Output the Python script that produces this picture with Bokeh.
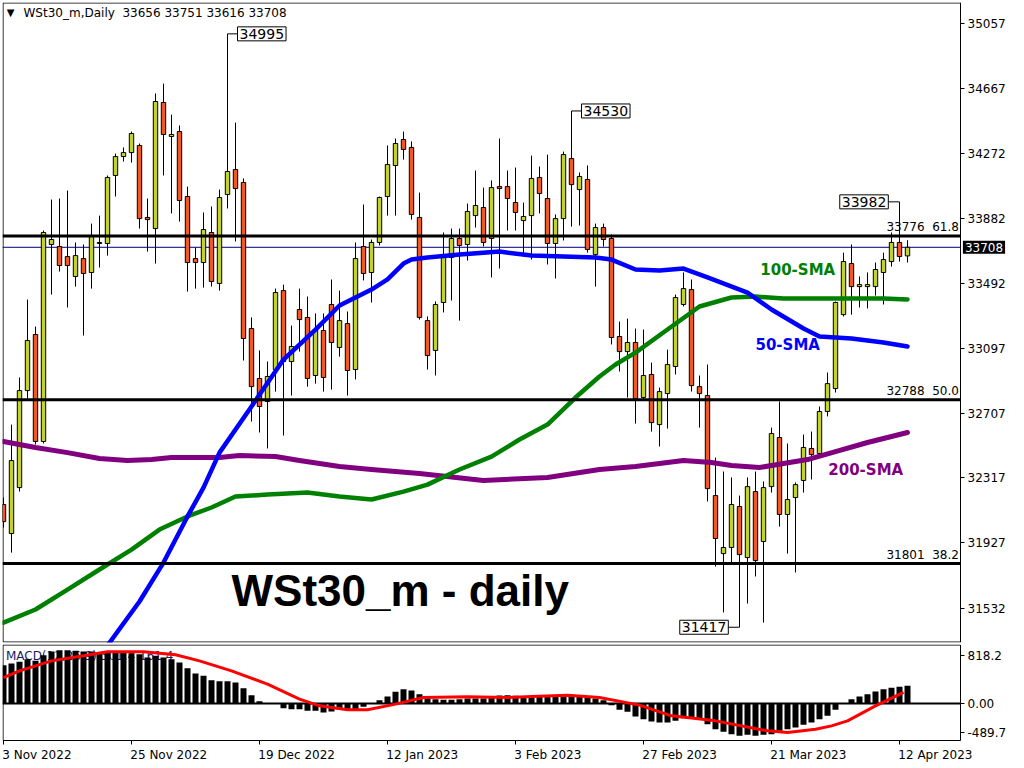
from bokeh.plotting import figure
from bokeh.models import ColumnDataSource, FixedTicker, Range1d, Label, LinearAxis
from bokeh.layouts import column
from bokeh.embed import file_html
from bokeh.resources import INLINE
from bokeh.core.properties import value

# ---------------- data ----------------
opens = [32157, 31982, 32259, 32844, 33182, 32537, 33725, 33713, 33652, 33532,
         33640, 33556, 33731, 33731, 34141, 34255, 34279, 34322, 33888, 33821,
         34581, 34376, 34406, 34014, 33640, 33616, 33797, 33490, 34026, 34177,
         34099, 33218, 32917, 32778, 32971, 33447, 33019, 33333, 33285, 32935,
         33206, 33363, 33104, 33248, 32971, 33713, 33556, 33737, 34014, 34201,
         34358, 34310, 33888, 33266, 33086, 33375, 33646, 33761, 33725, 33899,
         33948, 33761, 34074, 34074, 33978, 33869, 33899, 34129, 34002, 33731,
         33881, 34243, 34056, 34117, 33664, 33827, 33761, 33170, 33079, 33134,
         32802, 32941, 32639, 32826, 32989, 33363, 33453, 32868, 32814, 32211,
         31861, 31898, 32145, 31837, 32235, 31934, 32265, 32561, 32097, 32199,
         32302, 32495, 32464, 32718, 32856, 33302, 33610, 33471, 33471, 33471,
         33556, 33622, 33737, 33656]
highs = [32199, 32639, 32923, 33393, 33230, 33809, 33996, 34002, 34050, 33737,
         33725, 33851, 33899, 34141, 34273, 34310, 34406, 34334, 34002, 34635,
         34695, 34508, 34442, 34074, 33707, 33918, 33954, 34056, 34995, 34460,
         34123, 33285, 33086, 33019, 33459, 33483, 33236, 33459, 33411, 33309,
         33309, 33514, 33447, 33321, 33737, 33966, 33755, 34014, 34322, 34364,
         34406, 34346, 34038, 33291, 33381, 33797, 33821, 33821, 33972, 34171,
         34068, 34111, 34364, 34171, 34189, 33978, 34261, 34195, 34267, 33906,
         34285, 34530, 34159, 34201, 33851, 33851, 33785, 33260, 33278, 33218,
         33212, 33013, 32862, 33091, 33423, 33556, 33514, 32935, 33001, 32440,
         32356, 32320, 32211, 32320, 32356, 32296, 32621, 32778, 32525, 32290,
         32579, 32597, 32748, 32953, 33381, 33676, 33725, 33532, 33556, 33616,
         33676, 33797, 33982, 33751]
lows = [32018, 31867, 32235, 32790, 32519, 32525, 33423, 33562, 33345, 33471,
        33176, 33459, 33586, 33658, 34014, 34225, 34219, 33821, 33682, 33610,
        34141, 33912, 33863, 33441, 33459, 33465, 33471, 33447, 33942, 33743,
        33025, 32657, 32591, 32495, 32838, 32573, 32814, 33079, 32868, 32886,
        32838, 32850, 33049, 32814, 32911, 33508, 33375, 33719, 33899, 33899,
        34237, 33875, 33272, 32971, 32935, 33315, 33387, 33266, 33628, 33827,
        33713, 33526, 33580, 33809, 33809, 33652, 33634, 33912, 33604, 33520,
        33749, 33833, 33839, 33676, 33471, 33713, 33122, 32959, 32802, 32645,
        32790, 32597, 32507, 32615, 32941, 33351, 32838, 32621, 32175, 31783,
        31506, 31807, 31417, 31560, 31723, 31445, 32229, 32024, 31861, 31747,
        32229, 32308, 32446, 32688, 32832, 33291, 33302, 33345, 33339, 33417,
        33363, 33592, 33622, 33616]
closes = [32054, 32422, 32844, 33146, 32537, 33797, 33755, 33598, 33598, 33658,
          33550, 33773, 33737, 34129, 34255, 34279, 34394, 33881, 33875, 34587,
          34388, 34388, 33990, 33616, 33616, 33815, 33502, 34008, 34165, 34062,
          33158, 32868, 32748, 32929, 33435, 33019, 33110, 33272, 32917, 33212,
          32923, 33134, 33266, 32965, 33640, 33550, 33737, 34008, 34207, 34334,
          34298, 33906, 33285, 33055, 33363, 33646, 33761, 33719, 33924, 33960,
          33737, 34068, 34062, 34002, 33918, 33894, 34123, 34032, 33731, 33881,
          34267, 34086, 34135, 33695, 33827, 33755, 33164, 33079, 33134, 32796,
          32935, 32651, 32838, 33001, 33405, 33459, 32874, 32826, 32253, 31952,
          31898, 32157, 31855, 32265, 31819, 32259, 32585, 32097, 32187, 32277,
          32501, 32458, 32718, 32886, 33375, 33622, 33471, 33483, 33483, 33574,
          33634, 33737, 33652, 33708]

sma50_x = [12, 13, 17, 20, 23, 25, 27, 31, 35, 39, 42, 46, 48, 50, 51, 53, 57, 62, 66,
           70, 74, 76, 79, 82, 85, 88, 93, 96, 100, 102, 106, 110, 113]
sma50_y = [31264, 31307, 31572, 31807, 32085, 32259, 32470, 32748, 33031, 33212, 33357,
           33453, 33514, 33610, 33634, 33646, 33664, 33682, 33658, 33652, 33646, 33634,
           33574, 33568, 33580, 33526, 33435, 33333, 33218, 33170, 33158, 33134, 33110]

sma100_x = [0, 4, 8, 12, 16, 19.5, 23, 26, 29, 33, 38, 42, 46, 50, 53, 57, 61, 64.5, 68,
            71.5, 74.5, 76.5, 79, 83, 87, 91, 94, 97.5, 104, 110, 113]
sma100_y = [31445, 31524, 31644, 31765, 31885, 32006, 32085, 32139, 32205, 32217, 32229,
            32205, 32187, 32235, 32277, 32368, 32446, 32549, 32639, 32802, 32929, 33001,
            33073, 33212, 33351, 33405, 33411, 33399, 33399, 33399, 33393]

sma200_x = [0, 4, 8, 12, 15.5, 18.5, 21, 27, 29.5, 34, 37, 42, 46, 52, 60, 68, 74.5, 79,
            85, 88.5, 91, 94.5, 97.5, 100.5, 104, 108, 113]
sma200_y = [32537, 32501, 32470, 32434, 32422, 32428, 32440, 32440, 32452, 32446, 32422,
            32386, 32368, 32344, 32302, 32320, 32368, 32386, 32422, 32410, 32392, 32380,
            32404, 32428, 32476, 32531, 32591]

macd_hist = [653, 682, 710, 756, 727, 824, 887, 909, 909, 898,
             887, 887, 869, 887, 887, 869, 858, 841, 784, 813,
             784, 756, 699, 602, 511, 472, 398, 381, 381, 358,
             261, 142, 40, 5, -3, -80, -97, -97, -125, -125,
             -153, -136, -97, -97, -97, -57, -5, 57, 119, 199,
             244, 222, 159, 85, 74, 63, 63, 74, 85, 85,
             85, 119, 136, 142, 131, 119, 119, 142, 142, 142,
             142, 142, 131, 102, 85, 57, -28, -108, -142, -222,
             -267, -307, -324, -324, -296, -250, -256, -267, -352, -438,
             -483, -523, -551, -534, -551, -534, -523, -466, -438, -409,
             -364, -324, -267, -210, -108, -5, 74, 119, 159, 205,
             244, 267, 284, 301]
signal_x = [0, 2, 6, 10, 13, 17.5, 21.5, 24.5, 28.5, 33, 37, 39.5, 43, 45.5, 49, 52.5,
            58, 63, 66, 70.5, 74.5, 79.5, 83.5, 89, 95.5, 98, 101.5, 103.5, 105.5, 109, 112.5]
signal_y = [443, 557, 727, 813, 881, 881, 830, 727, 557, 330, 74, -40, -108, -108, -11,
            102, 114, 102, 119, 142, 102, -28, -210, -296, -466, -494, -438, -381, -296,
            -40, 188]

price_ticks = [35057, 34667, 34272, 33882, 33492, 33097, 32707, 32317, 31927, 31532]
macd_ticks = [818.2, 0.0, -489.7]
macd_tick_labels = ["818.2", "0.00", "-489.7"]
date_ticks = [0, 16, 32, 48, 64, 80, 96, 112]
date_labels = ["3 Nov 2022", "25 Nov 2022", "19 Dec 2022", "12 Jan 2023",
               "3 Feb 2023", "27 Feb 2023", "21 Mar 2023", "12 Apr 2023"]

fib_levels = [33776, 32788, 31801]
fib_pcts = ["61.8", "50.0", "38.2"]
last_price = 33708
title_text = "WSt30_m,Daily\u00a0\u00a033656 33751 33616 33708"
macd_title = "MACD(12,26,9) 301.4 161.4"
# swing-point tags: (bar index, price)
tag_bars = [28, 71, 112, 92]
tag_prices = [34995, 34530, 33982, 31417]

# ---------------- styling / layout constants ----------------
FONT = "DejaVu Sans"
BULL = "#c3d32b"
BEAR = "#f2581f"
X0, XR, XEND = -0.125, 119.625, 127.125   # frame left, chart right edge, canvas right
P_TOP, P_BOT = 35184, 31325               # price window
M_TOP, M_BOT, M_EDGE = 1006, -1040, -631  # MACD window and panel bottom edge

n = len(opens)
xs = list(range(n))
src = ColumnDataSource(dict(
    x=xs, h=highs, l=lows,
    top=[max(o, c) for o, c in zip(opens, closes)],
    bot=[min(o, c) for o, c in zip(opens, closes)],
    color=[BULL if c >= o else BEAR for o, c in zip(opens, closes)],
))

xr = Range1d(X0, XEND)


def style_axis(ax, size="12px"):
    ax.major_tick_out = 4
    ax.major_tick_in = 0
    ax.minor_tick_out = 0
    ax.minor_tick_in = 0
    ax.major_tick_line_color = "black"
    ax.major_label_standoff = 3
    ax.major_label_text_font = FONT
    ax.major_label_text_font_size = size
    ax.major_label_text_color = "black"


p = figure(frame_width=1018, frame_height=640, x_range=xr, y_range=Range1d(P_BOT, P_TOP),
           output_backend="svg", toolbar_location=None, x_axis_location=None,
           y_axis_location=None, min_border_left=2, min_border_top=2,
           min_border_bottom=1, min_border_right=0, outline_line_color=None,
           background_fill_color="white", border_fill_color="white")
p.grid.visible = False

yax = LinearAxis(fixed_location=XR, ticker=FixedTicker(ticks=price_ticks))
style_axis(yax)
yax.axis_line_color = "black"
p.add_layout(yax, "right")

# frame border (left, top, bottom)
p.line([XR, X0 + 0.07, X0 + 0.07, XR], [P_TOP - 3, P_TOP - 3, P_BOT + 3, P_BOT + 3],
       line_color="black", line_width=1)

# current price line (behind candles)
p.segment(x0=[X0], y0=[last_price], x1=[XR], y1=[last_price], line_color="#000080", line_width=1)

# candles
p.segment(x0="x", y0="h", x1="x", y1="l", line_color="black", line_width=1, source=src)
p.vbar(x="x", top="top", bottom="bot", width=0.55, fill_color="color",
       line_color="black", line_width=1, source=src)

# moving averages
p.line(sma200_x, sma200_y, line_color="#800080", line_width=5, line_join="round", line_cap="round")
p.line(sma100_x, sma100_y, line_color="#008000", line_width=4.5, line_join="round", line_cap="round")
p.line(sma50_x, sma50_y, line_color="#0000ff", line_width=4.5, line_join="round", line_cap="round")

# fibonacci levels
p.segment(x0=[X0] * len(fib_levels), y0=fib_levels, x1=[XR] * len(fib_levels), y1=fib_levels,
          line_color="black", line_width=3)
for lvl, pct in zip(fib_levels, fib_pcts):
    p.add_layout(Label(x=XR - 0.2, y=lvl + 12, text=f"{lvl}\u00a0\u00a0{pct}",
                       text_align="right", text_baseline="bottom", text_font=FONT,
                       text_font_size="12px", text_color="black"))

# swing tags
tag_offsets = [1.25, 1.25, -1.4, -1.4]
p.segment(x0=tag_bars, y0=tag_prices,
          x1=[b + o for b, o in zip(tag_bars, tag_offsets)], y1=tag_prices,
          line_color="black", line_width=1)
for b, pr, o in zip(tag_bars, tag_prices, tag_offsets):
    p.add_layout(Label(x=b + o, y=pr, text=str(pr),
                       text_align="left" if o > 0 else "right", text_baseline="middle",
                       text_font=FONT, text_font_size="14px", text_color="black",
                       background_fill_color="white", border_line_color="black",
                       border_line_width=1, padding=2))

# MA labels
p.add_layout(Label(x=94.6, y=33574, text="100-SMA", text_baseline="middle",
                   text_font=FONT, text_font_style="bold", text_font_size="15px",
                   text_color="#008000"))
p.add_layout(Label(x=94.0, y=33116, text="50-SMA", text_baseline="middle",
                   text_font=FONT, text_font_style="bold", text_font_size="15px",
                   text_color="#0000ff"))
p.add_layout(Label(x=103.1, y=32368, text="200-SMA", text_baseline="middle",
                   text_font=FONT, text_font_style="bold", text_font_size="15px",
                   text_color="#800080"))

# big caption
p.add_layout(Label(x=28.5, y=31640, text="WSt30_m - daily", text_baseline="alphabetic",
                   text_font="Liberation Sans", text_font_style="bold",
                   text_font_size="44px", text_color="black"))

# title
p.add_layout(Label(x=0.9, y=35122, text="\u25bc", text_align="center", text_baseline="middle",
                   text_font=FONT, text_font_size="10px", text_color="black"))
p.add_layout(Label(x=2.5, y=35122, text=title_text, text_baseline="middle",
                   text_font=FONT, text_font_size="12px", text_color="black"))

# current price tag on axis
p.add_layout(Label(x=XR + 0.3, y=last_price, text=str(last_price), text_baseline="middle",
                   text_font=FONT, text_font_size="12px", text_color="white",
                   background_fill_color="black", padding=2))

# ---------------- MACD panel ----------------
p2 = figure(frame_width=1018, frame_height=120, x_range=xr, y_range=Range1d(M_BOT, M_TOP),
            output_backend="svg", toolbar_location=None, y_axis_location=None,
            x_axis_location=None, min_border_left=2, min_border_top=1,
            min_border_bottom=0, min_border_right=0, outline_line_color=None,
            background_fill_color="white", border_fill_color="white")
p2.grid.visible = False

yax2 = LinearAxis(fixed_location=XR, ticker=FixedTicker(ticks=macd_ticks))
style_axis(yax2)
yax2.axis_line_color = None
yax2.major_label_overrides = {t: s for t, s in zip(macd_ticks, macd_tick_labels)}
p2.add_layout(yax2, "right")

xax = LinearAxis(fixed_location=M_EDGE, ticker=FixedTicker(ticks=date_ticks))
style_axis(xax)
xax.axis_line_color = None
xax.major_label_overrides = {t: "" for t in date_ticks}
p2.add_layout(xax, "below")

p2.line([X0 + 0.07, XR, XR, X0 + 0.07, X0 + 0.07],
        [M_TOP - 9, M_TOP - 9, M_EDGE, M_EDGE, M_TOP - 9], line_color="black", line_width=1)

p2.text(x=[0.3], y=[925], text=[macd_title], text_baseline="top",
        text_font=value(FONT), text_font_size="12px", text_color="#1a1a60")
p2.vbar(x=xs, top=macd_hist, bottom=0, width=0.75, fill_color="black", line_color=None)
p2.segment(x0=[X0], y0=[0], x1=[XR], y1=[0], line_color="black", line_width=2)
p2.line(signal_x, signal_y, line_color="#ff0000", line_width=3, line_join="round")

for t, s in zip(date_ticks, date_labels):
    p2.add_layout(Label(x=t - 0.15, y=M_EDGE - 120, text=s, text_align="left",
                        text_baseline="top", text_font=FONT, text_font_size="12px",
                        text_color="black"))

layout = column(p, p2, spacing=0)
open("out.html", "w").write(file_html(layout, INLINE))
